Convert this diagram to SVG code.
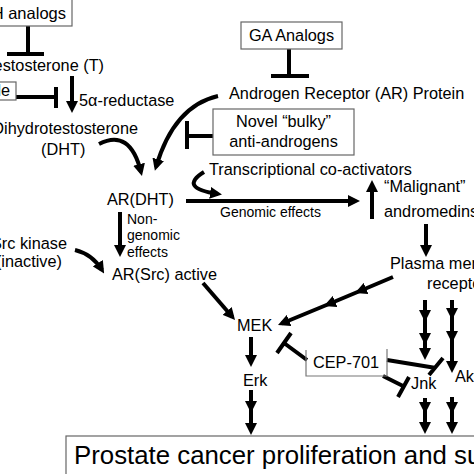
<svg xmlns="http://www.w3.org/2000/svg" width="474" height="474" viewBox="0 0 474 474">
<style>
text{font-family:"Liberation Sans",Arial,sans-serif;font-size:16.3px;fill:#000}
.s{font-size:14px}
.big{font-size:25.8px}
.box{fill:#fff;stroke:#666;stroke-width:1.2}
.a{fill:none;stroke:#000;stroke-width:4;marker-end:url(#ah);marker-mid:url(#ah)}
.t{fill:none;stroke:#000;stroke-width:4}
</style>
<defs>
<marker id="ah" markerUnits="userSpaceOnUse" markerWidth="12" markerHeight="12" viewBox="0 0 12 12" refX="8" refY="6" orient="auto">
<path d="M0,0 L12,6 L0,12 z" fill="#000"/>
</marker>
</defs>
<rect width="474" height="474" fill="#fff"/>

<g id="connectors">
<!-- inhibitions -->
<path class="t" d="M28,26 V53 M7,54 H44"/>
<path class="t" d="M16,97 H55 M56,87 V108"/>
<path class="t" d="M289,49 V75 M271,76 H309"/>
<path class="t" d="M213,136 H187 M187,121 V149"/>
<path class="t" d="M307,360 L284,343 M277,353 L291,333"/>
<path class="t" d="M387,360 L436,368 M429,375 L443,358"/>
<path class="t" d="M383,376 L403,386 M398,397 L409,377"/>
<!-- arrows -->
<path class="a" d="M72,76 V109"/>
<path class="a" d="M99,144 Q130,128 141,172"/>
<path class="a" d="M218,96 Q174,106 156,167"/>
<path class="a" d="M204,172 Q178,188 218,194"/>
<path class="a" d="M186,201 H356"/>
<path class="a" d="M372,219 V184"/>
<path class="a" d="M426,224 V253"/>
<path class="a" d="M120,212 V253"/>
<path class="a" d="M75,250 Q92,254 102,270"/>
<path class="a" d="M203,283 L232.4,317"/>
<polyline class="a" points="393,277 358.7,291.5 327.7,304.5 281.7,323.5"/>
<path class="a" d="M251,337 V363"/>
<polyline class="a" points="251,390 251,409 251,431"/>
<polyline class="a" points="425,300 425,318 425,341 425,356"/>
<polyline class="a" points="452,300 452,316 452,339 452,369"/>
<polyline class="a" points="425,398 425,410 425,430"/>
<polyline class="a" points="452,397 452,410 452,430"/>
</g>

<g id="lhrh">
<rect class="box" x="-10" y="-2" width="82" height="28"/>
<text x="66" y="19" text-anchor="end" style="font-size:16.5px">LHRH analogs</text>
</g>
<g id="testosterone"><text x="104" y="71" text-anchor="end">Testosterone (T)</text></g>
<g id="finasteride">
<rect class="box" x="-10" y="82" width="26" height="18"/>
<text x="10" y="96" text-anchor="end">Finasteride</text>
</g>
<g id="reductase"><text x="79" y="106">5α-reductase</text></g>
<g id="dht">
<text x="138" y="134" text-anchor="end">Dihydrotestosterone</text>
<text x="41" y="155">(DHT)</text>
</g>
<g id="ga">
<rect class="box" x="241" y="22" width="101" height="27"/>
<text x="291.5" y="41" text-anchor="middle">GA Analogs</text>
</g>
<g id="arprotein"><text x="229" y="99">Androgen Receptor (AR) Protein</text></g>
<g id="bulky">
<rect class="box" x="213" y="109" width="141" height="46"/>
<text x="283.5" y="127" text-anchor="middle">Novel “bulky”</text>
<text x="283.5" y="147" text-anchor="middle">anti-androgens</text>
</g>
<g id="coact"><text x="209" y="175">Transcriptional co-activators</text></g>
<g id="ardht"><text x="107" y="205">AR(DHT)</text></g>
<g id="genomic"><text class="s" x="220" y="217">Genomic effects</text></g>
<g id="nongenomic">
<text class="s" x="127" y="224">Non-</text>
<text class="s" x="127" y="240">genomic</text>
<text class="s" x="127" y="257">effects</text>
</g>
<g id="andromedins">
<text x="384" y="192">“Malignant”</text>
<text x="384" y="217">andromedins</text>
</g>
<g id="plasma">
<text x="390" y="269">Plasma membrane</text>
<text x="427" y="289">receptors</text>
</g>
<g id="src">
<text x="67" y="249" text-anchor="end">Src kinase</text>
<text x="62" y="267" text-anchor="end">(inactive)</text>
</g>
<g id="arsrc"><text x="112" y="280">AR(Src) active</text></g>
<g id="mek"><text x="237" y="331">MEK</text></g>
<g id="cep">
<path d="M306,350 V376 H387 V349" fill="none" stroke="#777" stroke-width="1.2"/>
<text x="313" y="368">CEP-701</text>
</g>
<g id="erk"><text x="243" y="386">Erk</text></g>
<g id="jnk"><text x="411" y="389">Jnk</text></g>
<g id="akt"><text x="455" y="382">Akt</text></g>
<g id="prostate">
<rect class="box" x="66" y="436" width="420" height="50"/>
<text class="big" x="74" y="464">Prostate cancer proliferation and survival</text>
</g>
</svg>
